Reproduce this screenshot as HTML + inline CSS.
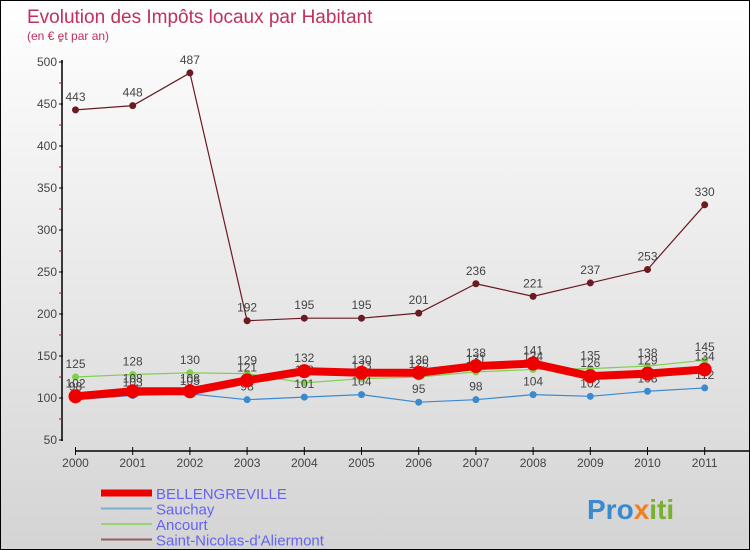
<!DOCTYPE html>
<html><head><meta charset="utf-8"><style>
body{margin:0}
#c{width:748px;height:548px;border:1px solid #000;background:linear-gradient(#fff,#f2f2f2 30%,#d4d4d4);position:relative;font-family:"Liberation Sans",sans-serif;overflow:hidden}
svg{position:absolute;left:0;top:0}
</style></head><body>
<div id="c">
<svg id="s" width="748" height="548">
<text x="26" y="22" font-size="19" fill="#c0305a">Evolution des Impôts locaux par Habitant</text>
<text x="26" y="39" font-size="12" fill="#c0305a">(en € et par an)</text>
</svg>
</div>
<script>
const years=['2000','2001','2002','2003','2004','2005','2006','2007','2008','2009','2010','2011'];
const yTicks=[50,100,150,200,250,300,350,400,450,500];
const bellengreville=[102,108,108,121,132,130,130,138,141,126,129,134];
const sauchay=[98,103,105,98,101,104,95,98,104,102,108,112];
const ancourt=[125,128,130,129,118,123,125,131,134,135,138,145];
const saintNicolas=[443,448,487,192,195,195,201,236,221,237,253,330];
const s=document.getElementById('s');const NS='http://www.w3.org/2000/svg';
function X(i){return 74.5+i*57.2;}
function Y(v){return 439-(v-50)*0.84;}
function mk(t,a,p){const e=document.createElementNS(NS,t);for(const k in a)e.setAttribute(k,a[k]);(p||s).appendChild(e);return e;}
let ax=mk('line',{x1:61,y1:59,x2:61,y2:440,stroke:'#000','stroke-width':1.5});


let xa=mk('line',{x1:74,y1:450,x2:748,y2:450,stroke:'#000','stroke-width':1.5});


yTicks.forEach(v=>{mk('line',{x1:58,y1:Y(v),x2:62,y2:Y(v),stroke:'#000'});
mk('line',{x1:58,y1:Y(v+25),x2:61,y2:Y(v+25),stroke:'#e00'});
const t=mk('text',{x:56,y:Y(v)+4,'font-size':12,fill:'#444','text-anchor':'end'});t.textContent=v;

});
years.forEach((y,i)=>{mk('line',{x1:X(i),y1:446,x2:X(i),y2:454,stroke:'#000'});
const t=mk('text',{x:X(i),y:466,'font-size':12,fill:'#444','text-anchor':'middle'});t.textContent=y;

});
function series(d,col,w,r,name){const g=mk('g',{});


mk('polyline',{points:d.map((v,i)=>X(i)+','+Y(v)).join(' '),fill:'none',stroke:col,'stroke-width':w,'stroke-linejoin':'round'},g);
d.forEach((v,i)=>{mk('circle',{cx:X(i),cy:Y(v),r:r,fill:col},g);
const t=mk('text',{x:X(i),y:Y(v)-9,'font-size':12,fill:'#444','text-anchor':'middle'},g);t.textContent=v;});}
series(saintNicolas,'#6b1a22',1.2,3.5,'series-saint-nicolas');
series(ancourt,'#7ed04a',1.2,3.5,'series-ancourt');
series(sauchay,'#3a8ad0',1.2,3.5,'series-sauchay');
series(bellengreville,'#ee0000',8,7,'series-bellengreville');
const leg=[['BELLENGREVILLE','#ee0000',7],['Sauchay','#7aaed0',2],['Ancourt','#9ad27a',2],["Saint-Nicolas-d'Aliermont",'#906060',2]];
leg.forEach((l,i)=>{const y=492+i*15.5;mk('line',{x1:100,y1:y,x2:151,y2:y,stroke:l[1],'stroke-width':l[2]});
const t=mk('text',{x:155,y:y+6,'font-size':15,fill:'#6464f0'});t.textContent=l[0];

});
const p=mk('text',{x:586,y:518,'font-size':28,'font-weight':'bold',fill:'#3a8ad0'});


p.innerHTML='Pro<tspan fill="#f08020">x</tspan><tspan fill="#7ab030">iti</tspan>';
</script>
</body></html>
